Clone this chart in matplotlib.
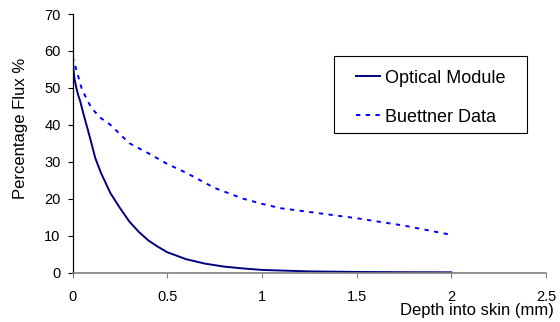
import matplotlib
matplotlib.use('Agg')
import matplotlib.pyplot as plt
from matplotlib.patches import Rectangle

plt.rcParams['font.family'] = ['Liberation Sans', 'DejaVu Sans']

# Optical Module curve (depth mm, flux %)
optical_x = [0, 0.005, 0.01, 0.02, 0.03, 0.04, 0.06, 0.08, 0.1, 0.12, 0.15, 0.2, 0.25, 0.3,
             0.35, 0.4, 0.45, 0.5, 0.6, 0.7, 0.8, 0.9, 1.0, 1.25, 1.5, 1.75, 2.0]
optical_y = [58, 55, 52.5, 50, 48, 46.5, 42.5, 38.8, 35, 31, 27, 21.5, 17.5, 13.8,
             11, 8.7, 7, 5.5, 3.6, 2.4, 1.6, 1.1, 0.7, 0.3, 0.15, 0.08, 0.05]

# Buettner data
buettner_x = [0, 0.05, 0.1, 0.15, 0.2, 0.25, 0.3, 0.4, 0.5, 0.6, 0.75, 0.9, 1.0, 1.1,
              1.25, 1.5, 1.75, 2.0]
buettner_y = [58.5, 49.5, 44.5, 41.8, 40, 37.5, 35, 32.3, 29.4, 27, 22.9, 20, 18.6, 17.4,
              16.4, 14.7, 12.7, 10.2]

fig = plt.figure(figsize=(5.6, 3.22), dpi=100)
ax = fig.add_axes([0.1295, 0.1537, 0.8455, 0.8028])

ax.plot(optical_x, optical_y, color='#000080', lw=1.4, label='Optical Module')
ax.plot(buettner_x, buettner_y, color='#0000FF', lw=1.4, dashes=(2.2, 2.8),
        label='Buettner Data')

ax.set_xlim(0, 2.5)
ax.set_ylim(0, 70)
ax.set_xticks([0, 0.5, 1, 1.5, 2, 2.5])
ax.set_xticklabels(['0', '0.5', '1', '1.5', '2', '2.5'])
ax.set_yticks(range(0, 71, 10))

for s in ['top', 'right']:
    ax.spines[s].set_visible(False)
ax.spines['bottom'].set_color('#808080')
ax.spines['bottom'].set_linewidth(1.2)
ax.spines['left'].set_linewidth(0.9)
ax.tick_params(axis='x', direction='out', length=3.5, color='#808080', labelsize=10.5, pad=9)
ax.tick_params(axis='y', direction='out', length=3.5, labelsize=10.5, pad=5)

ax.set_xlabel('Depth into skin (mm)', fontsize=12, ha='right', va='top')
ax.xaxis.set_label_coords(1.017, -0.118)
ax.set_ylabel('Percentage Flux %', fontsize=12)
ax.yaxis.set_label_coords(-0.094, 0.559)

# legend box drawn separately to get the wide padding of the original
ax.add_patch(Rectangle((0.552, 0.5397), 0.408, 0.298, transform=ax.transAxes,
                       fill=False, edgecolor='black', lw=0.8, clip_on=False))
ax.legend(loc='upper left', bbox_to_anchor=(0.599, 0.785), fontsize=13,
          frameon=False, handlelength=1.33, handletextpad=0.28, borderpad=0,
          labelspacing=1.23, borderaxespad=0)

fig.savefig('out.png', dpi=100)
